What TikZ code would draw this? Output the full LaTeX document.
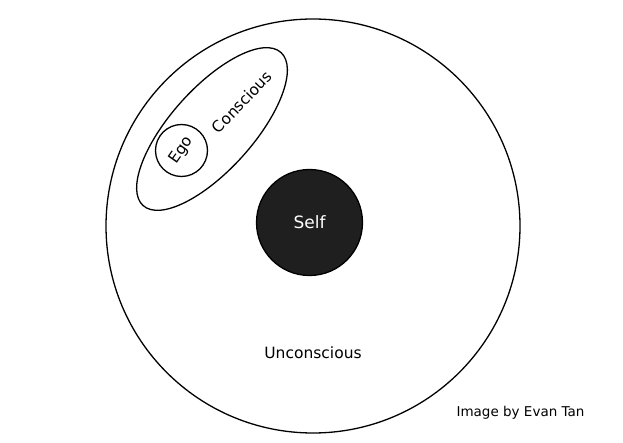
\documentclass[tikz,border=0pt]{standalone}
\usepackage{fontspec}
\setmainfont{DejaVu Sans}
\usetikzlibrary{
	positioning,
	shapes.geometric
}

\begin{document}
\begin{tikzpicture}[x=1pt,y=-1pt,
		ring/.style={draw,circle,line width=1.3pt,inner sep=0pt},
		word/.style={font=\fontsize{15.5}{15.5}\selectfont,inner sep=0pt}]
		\fill[white] (0,0) rectangle (623,443);
		\useasboundingbox (0,0) rectangle (623,443);

		\node[ring,minimum size=414pt] (psyche) at (313,226) {};
		\node[ring,fill=black!88,minimum size=106pt] (self) at (309.5,222.5) {};
		\node[word,text=white,font=\fontsize{17}{17}\selectfont] (selfname) at (self) {Self};

		\node[draw,ellipse,line width=1.3pt,minimum width=206pt,minimum height=82pt,
			rotate=48] (conscious) at (212,129) {};
		\node[ring,minimum size=52pt] (ego) at (181.5,150.5) {};
		\node[word,rotate=55] (egoname) at (ego) {Ego};
		\node[word,rotate=46] (consciousname) at (242,102) {Conscious};

		\node[word] (unconscious) at (313,353) {Unconscious};
		\node[word,font=\fontsize{13.5}{13.5}\selectfont] (credit) at (520.5,413) {Image by Evan Tan};
	\end{tikzpicture}
\end{document}
